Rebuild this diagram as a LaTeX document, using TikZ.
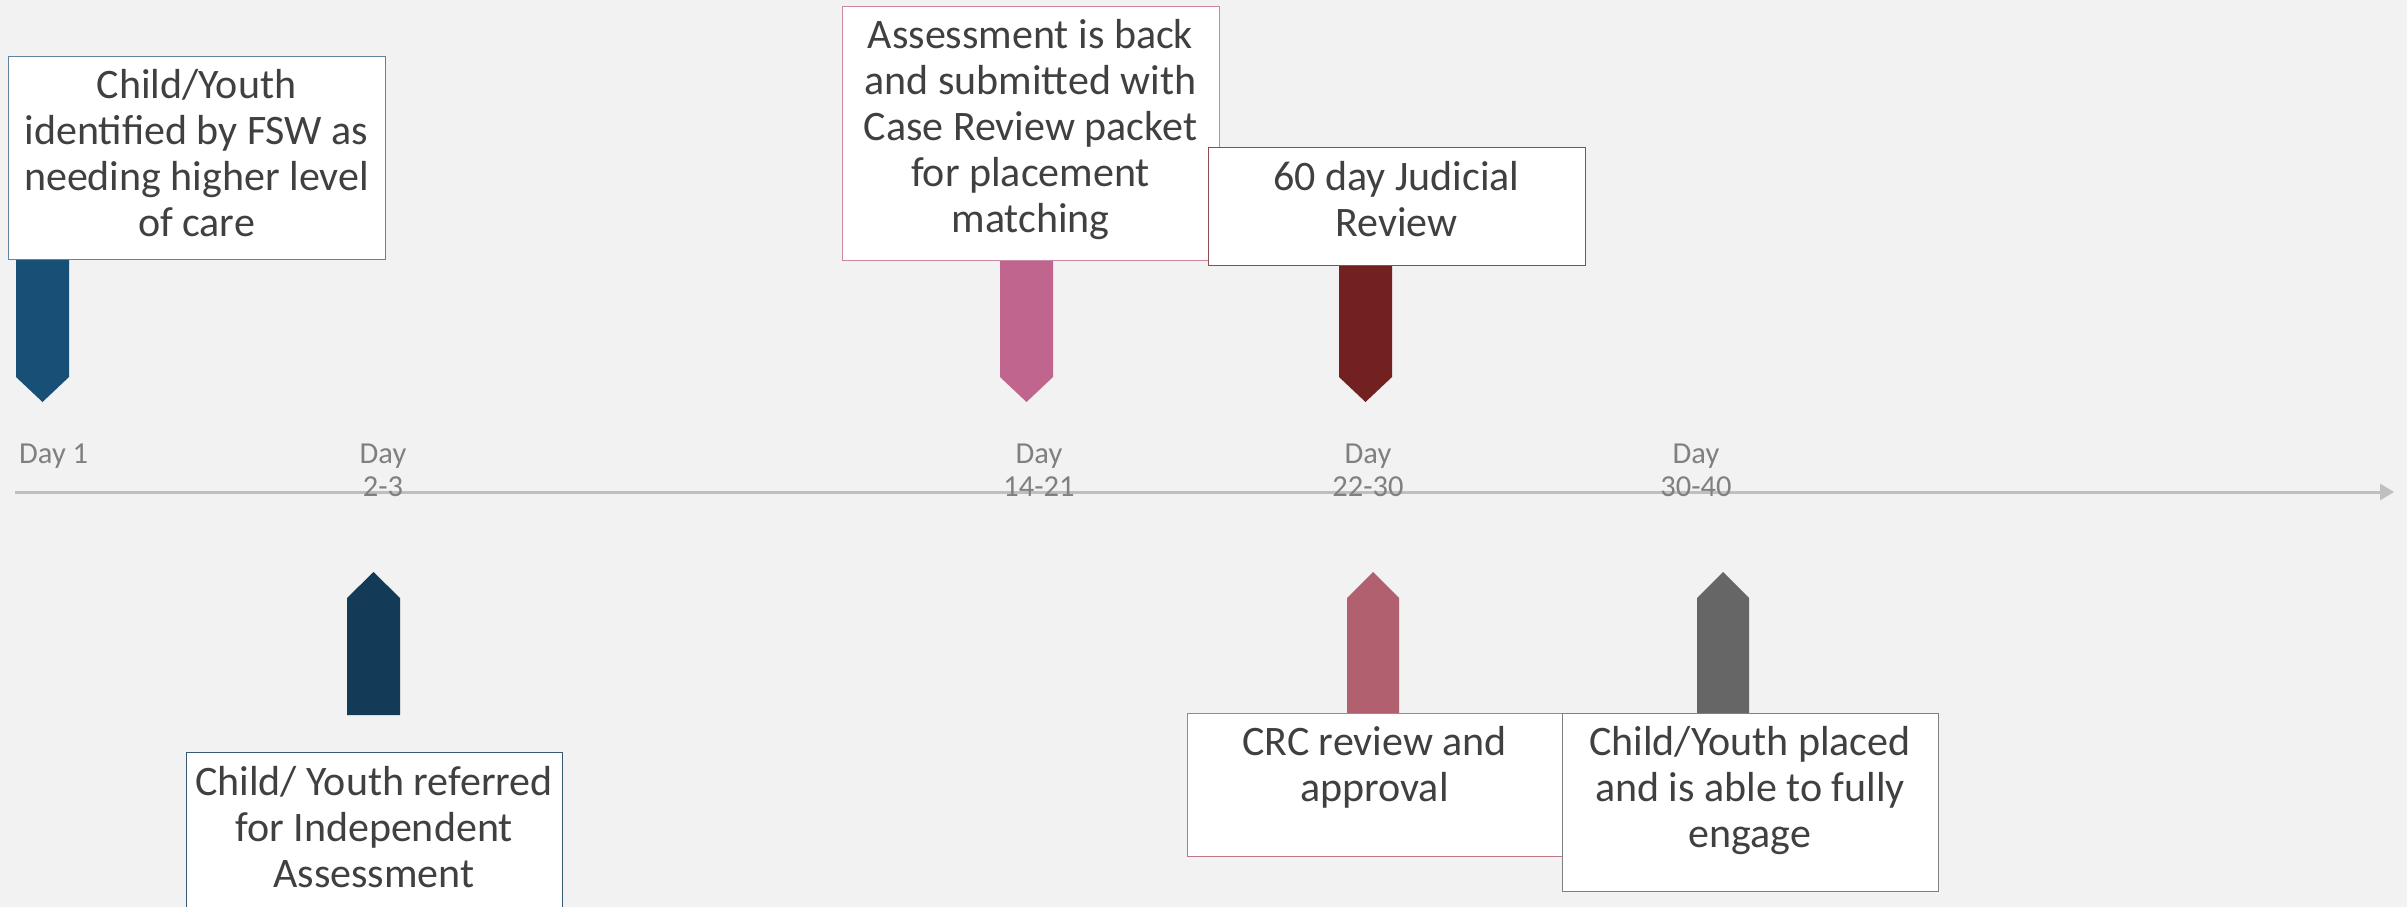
\documentclass[tikz,border=0pt]{standalone}
\usepackage{fontspec}
\setmainfont{Carlito}
\usetikzlibrary{arrows.meta}

\definecolor{bgcol}{HTML}{F2F2F2}
\definecolor{inkcol}{HTML}{404040}
\definecolor{daycol}{HTML}{808080}
\definecolor{axiscol}{HTML}{BFBFBF}
\definecolor{idcol}{HTML}{174F77}
\definecolor{refcol}{HTML}{133A57}
\definecolor{asscol}{HTML}{C0668E}
\definecolor{judcol}{HTML}{722020}
\definecolor{crccol}{HTML}{B0606E}
\definecolor{placol}{HTML}{666666}

\tikzset{
  box/.style={draw=#1, fill=white, line width=1.3pt, inner sep=0pt, anchor=north west},
  txt/.style={text=inkcol, align=center, inner sep=0pt, anchor=base, font=\fontsize{42}{46}\selectfont},
  day/.style={text=daycol, align=center, inner sep=0pt, anchor=base, font=\fontsize{30.5}{33}\selectfont},
  axis/.style={draw=axiscol, line width=3pt}
}

\begin{document}
\begin{tikzpicture}[x=1pt, y=-1pt]
  \useasboundingbox (0,0) rectangle (2407,907);
  \clip (0,0) rectangle (2407,907);
  \fill [bgcol] (0,0) rectangle (2407,907);

  % time line
  \coordinate (tstart) at (15,492);
  \coordinate (tend) at (2394,492);
  \draw [axis, -{Triangle[length=14pt, width=16pt]}] (tstart) -- (tend);

  \node [day, anchor=base west] (day1) at (19,463) {Day 1};
  \node [day] (day2) at (383,496) {Day\\2-3};
  \node [day] (day14) at (1039,496) {Day\\14-21};
  \node [day] (day22) at (1368,496) {Day\\22-30};
  \node [day] (day30) at (1696,496) {Day\\30-40};

  % markers
  \fill [idcol] (16,258) -- (16,377) -- (42.5,402) -- (69,377) -- (69,258) -- cycle;
  \fill [refcol] (347,715) -- (347,598) -- (373.5,572) -- (400,598) -- (400,715) -- cycle;
  \fill [asscol] (1000,259) -- (1000,377) -- (1026.5,402) -- (1053,377) -- (1053,259) -- cycle;
  \fill [judcol] (1339,264) -- (1339,377) -- (1365.5,402) -- (1392,377) -- (1392,264) -- cycle;
  \fill [crccol] (1347,714) -- (1347,598) -- (1373,572) -- (1399,598) -- (1399,714) -- cycle;
  \fill [placol] (1697,714) -- (1697,598) -- (1723,572) -- (1749,598) -- (1749,714) -- cycle;

  % boxes above the line
  \node [box=idcol!70!white, minimum width=377, minimum height=203] (idbox) at (8,56) {};
  \node [txt] (idtext) at (196.5,236) {Child/Youth\\identified by FSW as\\needing higher level\\of care};

  \node [box=asscol!80!white, minimum width=377, minimum height=254] (assbox) at (842,6) {};
  \node [txt] (asstext) at (1030.5,232) {Assessment is back\\and submitted with\\Case Review packet\\for placement\\matching};

  \node [box=judcol!80!white, minimum width=377, minimum height=118] (judbox) at (1208,147) {};
  \node [txt] (judtext) at (1396.5,236) {60 day Judicial\\Review};

  % boxes below the line
  \node [box=refcol!85!white, minimum width=376, minimum height=180] (refbox) at (186,752) {};
  \node [txt] (reftext) at (374,887) {Child/ Youth referred\\for Independent\\Assessment};

  \node [box=crccol!85!white, minimum width=375, minimum height=143] (crcbox) at (1187,713) {};
  \node [txt] (crctext) at (1374.5,801) {CRC review and\\approval};

  \node [box=daycol, minimum width=376, minimum height=178] (plabox) at (1562,713) {};
  \node [txt] (platext) at (1750,847) {Child/Youth placed\\and is able to fully\\engage};
\end{tikzpicture}
\end{document}
